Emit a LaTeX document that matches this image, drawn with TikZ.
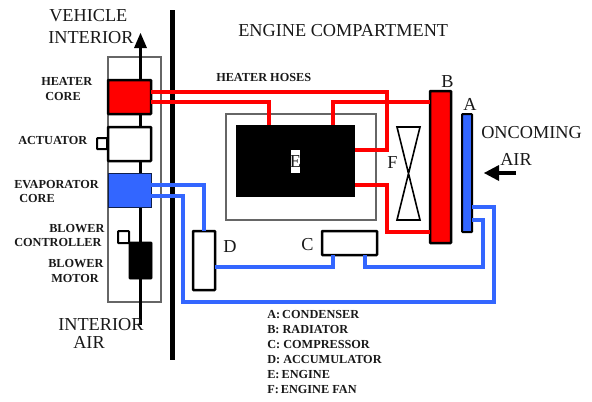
\documentclass[tikz,border=0pt]{standalone}
\usepackage{fontspec}
\setmainfont{Liberation Serif}
\newdimen\px \px=0.75pt
\definecolor{coolblue}{HTML}{3366FF}
\tikzset{
  x=0.75pt,y=-0.75pt,
  box/.style={draw=black,line width=2.5\px,inner sep=0,outer sep=0,rounded corners=0.5pt},
  redbox/.style={box,fill=red},
  bluebox/.style={box,fill=coolblue},
  frame/.style={draw=black!60,line width=1.1\px,inner sep=0,outer sep=0},
  redhose/.style={draw=red,line width=3.3\px},
  bluehose/.style={draw=coolblue,line width=3.3\px},
  air/.style={draw=black,line width=3\px},
  big/.style={font=\fontsize{13.7}{15}\selectfont,inner sep=0,anchor=base west,text=black!90},
  small/.style={font=\fontsize{9.2}{10}\selectfont\bfseries,inner sep=0,anchor=base west,text=black!90},
}
\begin{document}
\begin{tikzpicture}
\useasboundingbox (0,0) rectangle (592,401);
\fill[white] (0,0) rectangle (592,401);
% frames
\node[frame,minimum width=53\px,minimum height=245\px] (cabin) at (134.5,179.5) {};
\node[frame,minimum width=150\px,minimum height=106\px] (bay) at (301,167) {};
% air path
\coordinate (airstart) at (140.5,325);
\coordinate (airend) at (140.5,46);
\draw[air] (airstart) -- (airend);
\fill[black] (140.5,33) -- (147,48) -- (134,48) -- cycle;
% firewall
\coordinate (wallT) at (172.5,10);
\coordinate (wallB) at (172.5,360);
\draw[black,line width=5\px] (wallT) -- (wallB);
% boxes
\node[redbox,minimum width=43\px,minimum height=34\px] (heater) at (129.5,97) {};
\node[box,fill=white,minimum width=43\px,minimum height=34\px] (actuator) at (129.5,144) {};
\node[box,fill=white,line width=2\px,minimum width=10\px,minimum height=11\px] (actbox) at (102,143.5) {};
\node[draw=black!70!coolblue,line width=1\px,fill=coolblue,inner sep=0,outer sep=0,minimum width=43\px,minimum height=34\px] (evap) at (129.5,190) {};
\node[box,fill=white,line width=2\px,minimum width=11\px,minimum height=12\px] (ctrl) at (123.5,237) {};
\node[fill=black,draw=black,rounded corners=0.5pt,inner sep=0,outer sep=0,minimum width=23\px,minimum height=37\px] (motor) at (140.5,260.5) {};
\node[fill=black,inner sep=0,outer sep=0,minimum width=119\px,minimum height=72\px] (engine) at (295.5,161) {};
\node[redbox,minimum width=21\px,minimum height=152\px] (radiator) at (440.5,167) {};
\node[bluebox,line width=2\px,minimum width=10\px,minimum height=118\px] (condenser) at (467,173) {};
\node[box,fill=white,minimum width=22\px,minimum height=59\px] (accum) at (204,260.5) {};
\node[box,fill=white,minimum width=55\px,minimum height=24\px] (comp) at (349.5,243) {};
% red hoses
\draw[redhose] (heater.east |- 0,92) -| (387,150) -- (engine.east |- 0,150);
\draw[redhose] (heater.east |- 0,102) -| (engine.north -| 269,0);
\draw[redhose] (engine.north -| 333,0) |- (radiator.west |- 0,102);
\draw[redhose] (engine.east |- 0,185) -| (387,232) -- (radiator.west |- 0,232);
% blue hoses
\draw[bluehose] (evap.east |- 0,185) -| (accum.north);
\draw[bluehose] (evap.east |- 0,196) -| (183,302) -| (494,207) -- (condenser.east |- 0,207);
\draw[bluehose] (condenser.east |- 0,220) -| (483,267) -| (comp.south -| 365,0);
\draw[bluehose] (accum.east |- 0,267) -| (comp.south -| 333,0);
% fan
\draw[black,line width=1.6\px,line join=miter] (397,127) -- (420,127) -- (397,220) -- (420,220) -- cycle;
% oncoming air arrow
\coordinate (windstart) at (516,173);
\coordinate (windend) at (497,173);
\draw[black,line width=3.5\px] (windstart) -- (windend);
\fill[black] (484,173) -- (499,165) -- (499,181) -- cycle;
% engine label
\node[fill=white,inner sep=0,minimum width=9\px,minimum height=23\px] (elabelbg) at (295.5,161.5) {};
\node[big,anchor=center] (elabel) at (295.5,162) {E};
% big text
\node[big] (t1) at (49,21) {VEHICLE};
\node[big] (t2) at (48,43) {INTERIOR};
\node[big] (t3) at (58,330) {INTERIOR};
\node[big] (t4) at (73,348) {AIR};
\node[big] (t5) at (238,36) {ENGINE COMPARTMENT};
\node[big] (t6) at (481,138) {ONCOMING};
\node[big] (t7) at (500,165) {AIR};
\node[big] (lb) at (441,87) {B};
\node[big] (la) at (463,110) {A};
\node[big] (lf) at (387,168) {F};
\node[big] (ld) at (223,252) {D};
\node[big] (lc) at (301,250) {C};
% small text
\node[small] (s1) at (41,85) {HEATER};
\node[small] (s2) at (45,100) {CORE};
\node[small] (s3) at (18,144) {ACTUATOR};
\node[small] (s4) at (14,188) {EVAPORATOR};
\node[small] (s5) at (19,202) {CORE};
\node[small] (s6) at (49,232) {BLOWER};
\node[small] (s7) at (14,246) {CONTROLLER};
\node[small] (s8) at (48,267) {BLOWER};
\node[small] (s9) at (51,282) {MOTOR};
\node[small] (s10) at (216,81) {HEATER HOSES};
\node[small] (k1) at (267,318) {A:\,CONDENSER};
\node[small] (k2) at (267,333) {B: RADIATOR};
\node[small] (k3) at (267,348) {C: COMPRESSOR};
\node[small] (k4) at (267,363) {D: ACCUMULATOR};
\node[small] (k5) at (267,378) {E:\,ENGINE};
\node[small] (k6) at (267,393) {F:\,ENGINE FAN};
\end{tikzpicture}
\end{document}
